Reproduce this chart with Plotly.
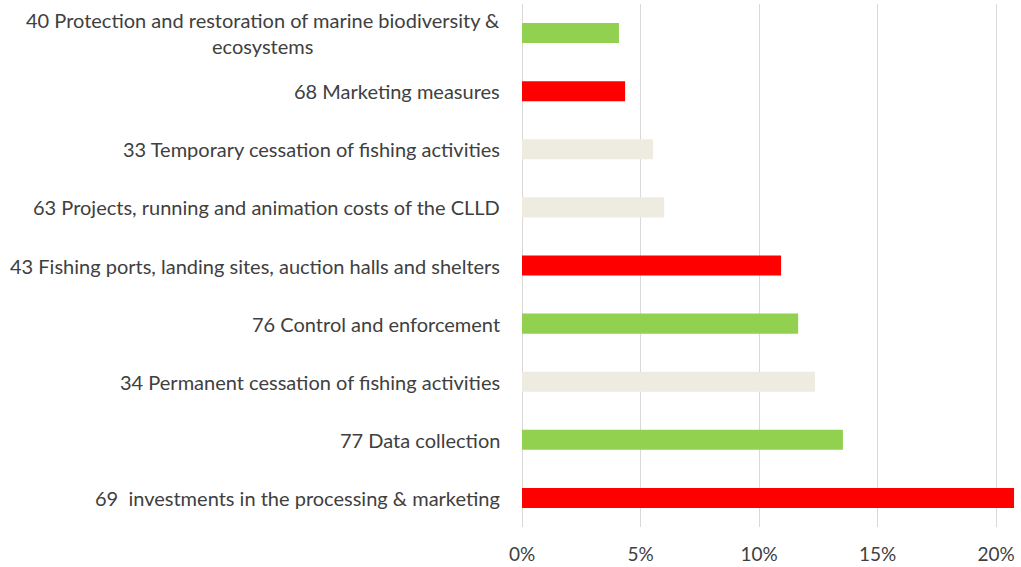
import plotly.graph_objects as go

# bottom to top, as drawn
labels = [
    "69  investments in the processing & marketing",
    "77 Data collection",
    "34 Permanent cessation of fishing activities",
    "76 Control and enforcement",
    "43 Fishing ports, landing sites, auction halls and shelters",
    "63 Projects, running and animation costs of the CLLD",
    "33 Temporary cessation of fishing activities",
    "68 Marketing measures",
    "40 Protection and restoration of marine biodiversity &<br>ecosystems",
]
shares = [0.2076, 0.1354, 0.1236, 0.1165, 0.1093, 0.0600, 0.0553, 0.0435, 0.0409]
groups = ["red", "green", "beige", "green", "red", "beige", "beige", "red", "green"]

palette = {"red": "#FF0000", "green": "#92D050", "beige": "#EEECE1"}
ticks = [0, 0.05, 0.10, 0.15, 0.20]
tick_text = ["0%", "5%", "10%", "15%", "20%"]

fig = go.Figure(go.Bar(
    x=shares,
    y=labels,
    orientation="h",
    marker=dict(color=[palette[g] for g in groups], line=dict(width=0)),
))

# category labels as annotations so the wrapped one stays centred
for lab in labels:
    fig.add_annotation(
        x=0, xref="paper", y=lab, yref="y",
        text=lab, showarrow=False,
        xanchor="right", align="center", xshift=-20,
        font=dict(family="Lato", size=20, color="#404040"),
    )

fig.update_layout(
    width=1021, height=567,
    margin=dict(l=522, r=6, t=4, b=40),
    plot_bgcolor="white", paper_bgcolor="white",
    showlegend=False,
    bargap=0.655,
    font=dict(family="Lato", size=19, color="#404040"),
)
fig.update_xaxes(
    range=[0, 0.208], tickvals=ticks, ticktext=tick_text,
    showgrid=True, gridcolor="#D9D9D9", gridwidth=1,
    zeroline=True, zerolinecolor="#D9D9D9", zerolinewidth=1,
    showline=False, ticks="", ticklabelstandoff=14, automargin=False,
)
fig.update_yaxes(showticklabels=False, showgrid=False, showline=False, ticks="",
                 automargin=False)

fig.write_html("out.html", config={"displayModeBar": False},
               post_script="document.body.style.margin='0';")
